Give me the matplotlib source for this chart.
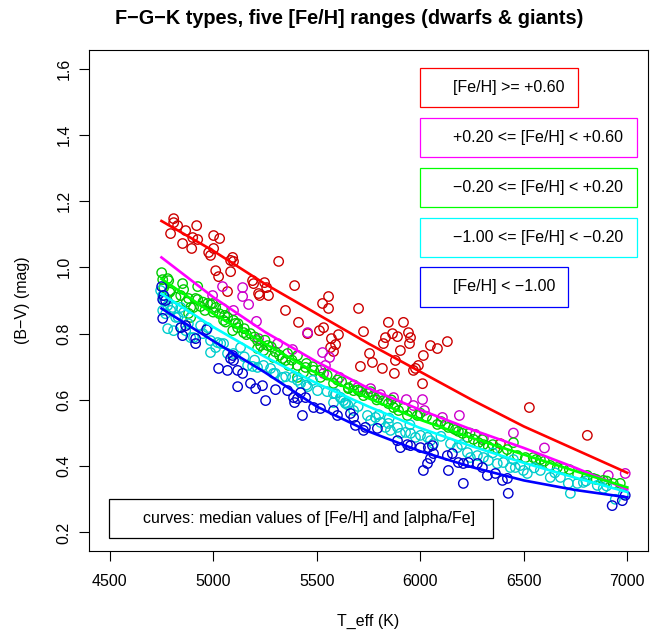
import matplotlib
matplotlib.use("Agg")
import matplotlib.pyplot as plt
from matplotlib.patches import Rectangle

plt.rcParams['font.family'] = ['Liberation Sans', 'DejaVu Sans']

# ---------------- data ----------------
curve_T = [4750, 5000, 5250, 5500, 5750, 6000, 6250, 6500, 6750, 7000]
curve_red = [1.140, 1.050, 0.950, 0.860, 0.770, 0.685, 0.600, 0.520, 0.450, 0.380]
curve_magenta = [1.030, 0.910, 0.805, 0.715, 0.635, 0.570, 0.510, 0.455, 0.395, 0.330]
curve_green = [0.965, 0.860, 0.770, 0.680, 0.605, 0.540, 0.485, 0.435, 0.385, 0.336]
curve_cyan = [0.920, 0.820, 0.730, 0.650, 0.580, 0.515, 0.460, 0.410, 0.365, 0.322]
curve_blue = [0.876, 0.778, 0.683, 0.580, 0.505, 0.445, 0.397, 0.357, 0.328, 0.306]

red_T = [4809, 4809, 4828, 4794, 4867, 4920, 4852, 4896, 4901, 4925, 5002, 5031, 4978, 4987,
         5002, 5094, 5084, 5098, 5084, 5012, 5026, 5069, 5316, 5190, 5195, 5219, 5224, 5248,
         5258, 5267, 5393, 5349, 5412, 5456, 5528, 5557, 5557, 5533, 5513, 5571, 5605, 5567,
         5591, 5581, 5702, 5726, 5846, 5919, 5832, 5866, 5890, 5943, 5953, 5948, 5822, 5755,
         5769, 5711, 5817, 5875, 5904, 5880, 5967, 5977, 5991, 6015, 6049, 6083, 6131, 6011,
         6387, 6527, 6807]
red_BV = [1.147, 1.135, 1.126, 1.102, 1.111, 1.126, 1.072, 1.057, 1.090, 1.084, 1.096, 1.087,
          1.045, 1.036, 1.057, 1.030, 1.021, 1.018, 0.987, 0.990, 0.972, 0.927, 1.018, 0.960,
          0.951, 0.921, 0.915, 0.954, 0.939, 0.915, 0.945, 0.870, 0.834, 0.800, 0.891, 0.912,
          0.876, 0.818, 0.809, 0.785, 0.797, 0.758, 0.767, 0.746, 0.876, 0.806, 0.834, 0.834,
          0.788, 0.800, 0.791, 0.803, 0.788, 0.770, 0.770, 0.740, 0.713, 0.701, 0.695, 0.680,
          0.749, 0.719, 0.689, 0.695, 0.704, 0.734, 0.764, 0.755, 0.776, 0.649, 0.468, 0.577,
          0.493]

magenta_T = [5045, 5142, 5142, 5171, 4997, 5098, 5209, 5219, 5311, 5383, 5456, 5528, 5562,
             5542, 5533, 5610, 5697, 5760, 5808, 5871, 5933, 5967, 6011, 6020, 6107, 6189,
             6266, 6305, 6450, 6600, 6908, 6990]
magenta_BV = [0.942, 0.939, 0.912, 0.888, 0.915, 0.870, 0.837, 0.785, 0.770, 0.752, 0.803,
              0.743, 0.728, 0.704, 0.680, 0.668, 0.637, 0.634, 0.616, 0.607, 0.601, 0.583,
              0.601, 0.568, 0.547, 0.553, 0.496, 0.484, 0.500, 0.455, 0.372, 0.378]

green_T = [4751, 4756, 4780, 4785, 4761, 4794, 4852, 4857, 4925, 4843, 4881, 4915, 4925, 4891,
           4905, 4939, 4881, 4891, 4973, 4987, 4997, 5012, 5045, 5055, 5050, 5069, 5098, 5108,
           5118, 5094, 5147, 5161, 5214, 5229, 5263, 5214, 5243, 5291, 5335, 5349, 5359, 5407,
           5364, 5407, 5446, 5485, 5407, 5436, 5518, 5581, 5653,
           5653, 5678, 5711, 5726, 5745, 5774, 5798, 5822, 5846, 5871, 5895, 5938, 5986, 6059,
           6083, 6136, 6160, 6184, 6204, 6228, 6257, 6281, 6305, 6329, 6372, 6401, 6450, 6469,
           6508, 6546, 6580, 6628, 6662, 6691, 6807, 6836, 6884, 6932, 6966,
           4790, 4820, 4870, 4950, 4960, 5000, 5030, 5060, 5120, 5150, 5180, 5200, 5250, 5280,
           5300, 5320, 5380, 5450, 5480, 5520, 5550, 5600, 5620, 5680, 5700, 5760, 5790, 5860,
           5880, 5920, 5960, 6000, 6030, 6100, 6120, 6170, 6240, 6300, 6350, 6420, 6560, 6600,
           6720, 6760, 6850, 6900]
green_BV = [0.984, 0.963, 0.966, 0.960, 0.939, 0.930, 0.951, 0.933, 0.942, 0.915, 0.906,
            0.906, 0.903, 0.879, 0.879, 0.882, 0.861, 0.849, 0.891, 0.888, 0.891, 0.879, 0.876,
            0.855, 0.840, 0.849, 0.840, 0.831, 0.818, 0.809, 0.803, 0.797, 0.779, 0.764, 0.764,
            0.755, 0.749, 0.728, 0.725, 0.719, 0.740, 0.734, 0.704, 0.704, 0.698, 0.689, 0.668,
            0.683, 0.668, 0.650, 0.634,
            0.637, 0.628, 0.625, 0.613, 0.619, 0.613, 0.607, 0.598, 0.589, 0.577, 0.568, 0.553,
            0.553, 0.541, 0.526, 0.517, 0.514, 0.505, 0.499, 0.487, 0.481, 0.471, 0.465, 0.459,
            0.453, 0.441, 0.471, 0.432, 0.426, 0.426, 0.420, 0.402, 0.396, 0.393, 0.372, 0.363,
            0.357, 0.348, 0.348,
            0.925, 0.910, 0.895, 0.895, 0.870, 0.865, 0.860, 0.835, 0.830, 0.815, 0.800, 0.790,
            0.780, 0.760, 0.745, 0.735, 0.720, 0.710, 0.700, 0.690, 0.675, 0.660, 0.655, 0.645,
            0.630, 0.625, 0.600, 0.600, 0.585, 0.575, 0.565, 0.560, 0.550, 0.535, 0.525, 0.510,
            0.500, 0.480, 0.465, 0.450, 0.420, 0.415, 0.390, 0.375, 0.360, 0.355]

cyan_T = [4746, 4756, 4761, 4780, 4756, 4794, 4804, 4843, 4857, 4819, 4780, 4809, 4843, 4867,
          4891, 4905, 4939, 4973, 4987, 5021, 5036, 5012, 4987, 5069, 5098, 5132, 5166, 5190,
          5214, 5243, 5277, 5291, 5335, 5383, 5407, 5422, 5456, 5480, 5504, 5581, 5615, 5639,
          5581,
          5591, 5615, 5629, 5639, 5678, 5745, 5760, 5784, 5808, 5832, 5846, 5856, 5890, 5904,
          5929, 5953, 5977, 6001, 6035, 6049, 6064, 6146, 6179, 6228, 6242, 6276, 6305, 6329,
          6372, 6401, 6435, 6459, 6483, 6498, 6517, 6580, 6628, 6677, 6715, 6725, 6759, 6788,
          6855, 6884, 6942, 6981,
          4770, 4830, 4880, 4950, 5050, 5150, 5200, 5300, 5350, 5450, 5550, 5650, 5700, 5800,
          5850, 5950, 6100, 6200, 6350, 6450, 6550, 6650, 6800, 6900]
cyan_BV = [0.930, 0.915, 0.900, 0.885, 0.870, 0.870, 0.879, 0.879, 0.864, 0.849, 0.815,
           0.809, 0.818, 0.809, 0.788, 0.788, 0.824, 0.818, 0.779, 0.773, 0.770, 0.758, 0.743,
           0.740, 0.740, 0.758, 0.704, 0.701, 0.698, 0.704, 0.695, 0.680, 0.668, 0.668, 0.659,
           0.650, 0.640, 0.659, 0.628, 0.619, 0.607, 0.592, 0.592,
           0.619, 0.607, 0.598, 0.589, 0.568, 0.553, 0.538, 0.547, 0.532, 0.517, 0.529, 0.508,
           0.517, 0.499, 0.502, 0.499, 0.487, 0.493, 0.487, 0.477, 0.468, 0.468, 0.456, 0.441,
           0.426, 0.432, 0.426, 0.417, 0.408, 0.411, 0.396, 0.396, 0.402, 0.387, 0.378, 0.387,
           0.366, 0.366, 0.348, 0.318, 0.348, 0.351, 0.342, 0.333, 0.300, 0.315,
           0.860, 0.850, 0.830, 0.800, 0.770, 0.730, 0.720, 0.680, 0.670, 0.645, 0.625, 0.585,
           0.580, 0.555, 0.545, 0.525, 0.490, 0.465, 0.440, 0.420, 0.395, 0.380, 0.355, 0.340]

blue_T = [4751, 4761, 4756, 4756, 4770, 4843, 4852, 4867, 4915, 4915, 4968, 5094, 5098, 5084,
          5026, 5069, 5118, 5142, 5180, 5205, 5238, 5118, 5253, 5301, 5359, 5388, 5393, 5407,
          5422, 5446, 5485, 5518, 5431, 5581, 5600,
          5663, 5678, 5687, 5726, 5735, 5793, 5890, 5904, 5938, 5953, 6001, 6039, 6059, 6064,
          6049, 6035, 6015, 6136, 6131, 6155, 6184, 6208, 6233, 6276, 6300, 6324, 6363, 6397,
          6421, 6425, 6208, 6927, 6976, 6990]
blue_BV = [0.942, 0.915, 0.903, 0.846, 0.900, 0.818, 0.794, 0.824, 0.785, 0.770, 0.812, 0.734,
           0.719, 0.725, 0.695, 0.689, 0.689, 0.680, 0.650, 0.634, 0.643, 0.640, 0.598, 0.631,
           0.628, 0.607, 0.592, 0.604, 0.622, 0.607, 0.577, 0.574, 0.553, 0.568, 0.553,
           0.559, 0.547, 0.523, 0.508, 0.517, 0.514, 0.477, 0.456, 0.465, 0.462, 0.456, 0.456,
           0.462, 0.438, 0.423, 0.408, 0.387, 0.387, 0.432, 0.438, 0.411, 0.408, 0.411, 0.408,
           0.396, 0.372, 0.378, 0.357, 0.363, 0.318, 0.348, 0.281, 0.296, 0.312]

legend_labels = ["[Fe/H] >= +0.60", "+0.20 <= [Fe/H] < +0.60", "\u22120.20 <= [Fe/H] < +0.20",
                 "\u22121.00 <= [Fe/H] < \u22120.20", "[Fe/H] < \u22121.00"]
note_label = "curves: median values of [Fe/H] and [alpha/Fe]"
x_ticks = [4500, 5000, 5500, 6000, 6500, 7000]
y_ticks = [0.2, 0.4, 0.6, 0.8, 1.0, 1.2, 1.4, 1.6]

# ---------------- figure ----------------
W, H = 671, 637
fig = plt.figure(figsize=(W / 100, H / 100), dpi=100)
ax = fig.add_axes([89 / W, 1 - 551 / H, (648 - 89) / W, (551 - 50) / H])

pt_colors = ['#CD0000', '#CD00CD', '#00CD00', '#00CDCD', '#0000CD']
ln_colors = ['#FF0000', '#FF00FF', '#00FF00', '#00FFFF', '#0000FF']
groups = [(red_T, red_BV), (magenta_T, magenta_BV), (green_T, green_BV),
          (cyan_T, cyan_BV), (blue_T, blue_BV)]
for (t, b), c in zip(groups, pt_colors):
    ax.scatter(t, b, s=46, facecolors='none', edgecolors=c, linewidths=1.0, zorder=2)
for cv, c in zip([curve_red, curve_magenta, curve_green, curve_cyan, curve_blue], ln_colors):
    ax.plot(curve_T, cv, color=c, lw=1.9, zorder=3)

ax.set_xlim(4400, 7100)
ax.set_ylim(0.144, 1.656)
ax.set_xticks(x_ticks)
ax.set_xticklabels([str(v) for v in x_ticks])
ax.set_yticks(y_ticks)
ax.set_yticklabels(["%.1f" % v for v in y_ticks], rotation=90, va='center')
ax.tick_params(direction='out', length=7.5, width=0.8, labelsize=11.5)
ax.tick_params(axis='x', pad=9)
ax.tick_params(axis='y', pad=5)
for s in ax.spines.values():
    s.set_linewidth(0.8)

ax.set_xlabel("T_eff (K)", fontsize=11.5, labelpad=18)
ax.set_ylabel("(B\u2212V) (mag)", fontsize=11.5, labelpad=19)
fig.text(0.5 + 14 / W, 1 - 18 / H, "F\u2212G\u2212K types, five [Fe/H] ranges (dwarfs & giants)",
         ha='center', va='center', fontsize=14.3, fontweight='bold')

def box(x0, y0, x1, y1, color, text, tx):
    fig.patches.append(Rectangle((x0 / W, 1 - y1 / H), (x1 - x0) / W, (y1 - y0) / H,
                                 transform=fig.transFigure, fill=True, facecolor='white',
                                 edgecolor=color, lw=0.9, zorder=5))
    fig.text(tx / W, 1 - (y0 + y1) / 2 / H, text, ha='left', va='center',
             fontsize=11.5, zorder=6)

box_edges = ['#FF0000', '#FF00FF', '#00FF00', '#00FFFF', '#0000FF']
box_rows = [(68, 107, 578), (118, 157, 637), (168, 207, 637), (218, 257, 637), (267, 307, 568)]
for (y0, y1, x1), c, lab in zip(box_rows, box_edges, legend_labels):
    box(420, y0, x1, y1, c, lab, 453)
box(109, 499, 493, 538, 'black', note_label, 143)

fig.savefig("out.png", dpi=100)
